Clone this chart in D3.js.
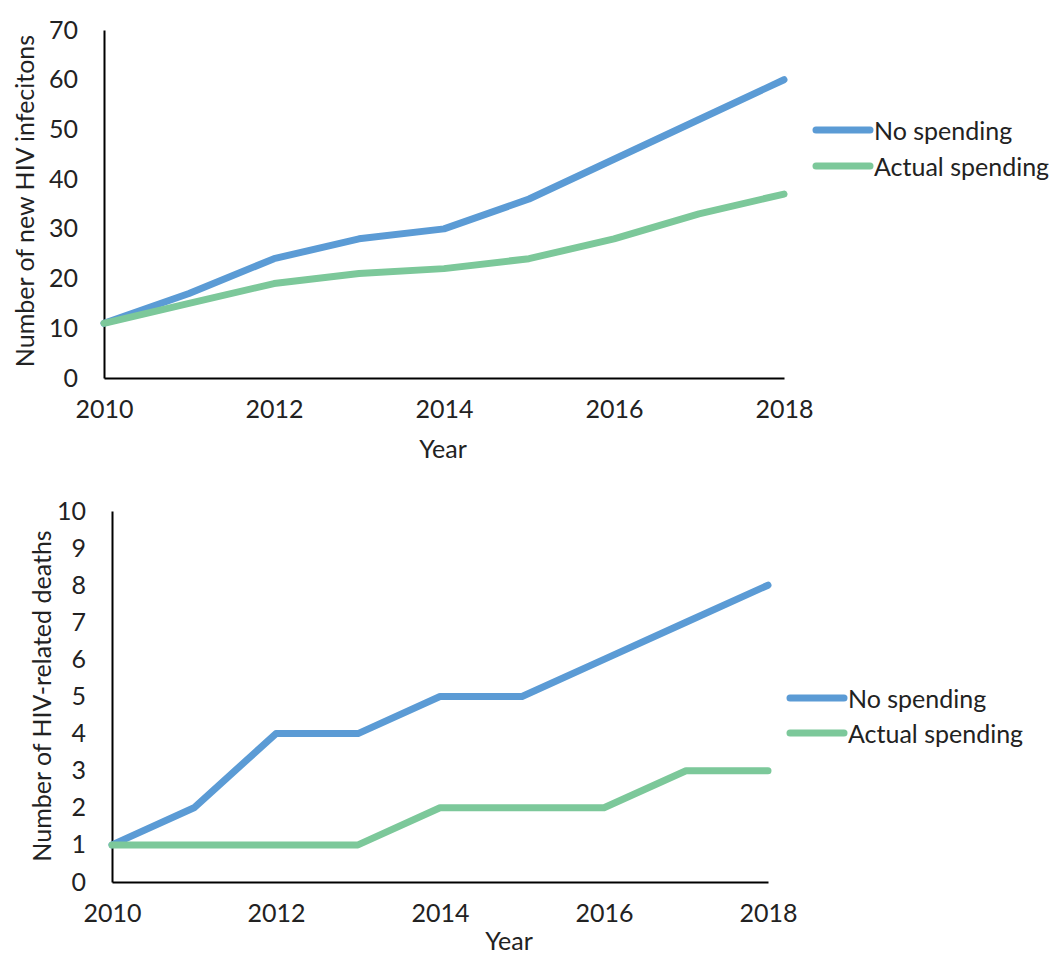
<!DOCTYPE html>
<html>
<head>
<meta charset="utf-8">
<script src="https://cdn.jsdelivr.net/npm/d3@7"></script>
<style>
  html, body { margin: 0; padding: 0; background: #fff; }
  svg text { font-family: Lato, "Open Sans", sans-serif; fill: #222; }
</style>
</head>
<body>
<svg id="chart" width="1049" height="954"></svg>
<script>
// ---- Data ----
const years = [2010, 2011, 2012, 2013, 2014, 2015, 2016, 2017, 2018];
const xTickYears = [2010, 2012, 2014, 2016, 2018];

const infectionsNoSpending = [11, 17, 24, 28, 30, 36, 44, 52, 60];
const infectionsActualSpending = [11, 15, 19, 21, 22, 24, 28, 33, 37];
const infectionsTicks = [0, 10, 20, 30, 40, 50, 60, 70];

const deathsNoSpending = [1, 2, 4, 4, 5, 5, 6, 7, 8];
const deathsActualSpending = [1, 1, 1, 1, 2, 2, 2, 3, 3];
const deathsTicks = [0, 1, 2, 3, 4, 5, 6, 7, 8, 9, 10];

const seriesNames = ["No spending", "Actual spending"];
const seriesColors = ["#5B9BD5", "#7CC89A"];

const yTitleTop = "Number of new HIV infecitons";
const yTitleBottom = "Number of HIV-related deaths";
const xTitle = "Year";

// ---- Drawing ----
const svg = d3.select("#chart");
const FONT = 25;

function panel(cfg) {
  const g = svg.append("g");
  const x = d3.scaleLinear().domain([2010, 2018]).range([cfg.x0, cfg.x1]);
  const y = d3.scaleLinear().domain([0, cfg.yMax]).range([cfg.y0, cfg.y1]);

  // y axis
  const yAxis = d3.axisLeft(y).tickValues(cfg.yTicks).tickSize(0).tickPadding(cfg.yPad);
  const ya = g.append("g").attr("transform", `translate(${cfg.x0},0)`).call(yAxis);
  ya.select(".domain").attr("stroke", "#000").attr("stroke-width", 2);
  ya.selectAll("text").style("font-size", FONT + "px").attr("fill", "#222");

  // x axis
  const xAxis = d3.axisBottom(x).tickValues(xTickYears).tickFormat(d3.format("d")).tickSize(0).tickPadding(cfg.xPad);
  const xa = g.append("g").attr("transform", `translate(0,${cfg.y0})`).call(xAxis);
  xa.select(".domain").attr("stroke", "#000").attr("stroke-width", 2);
  xa.selectAll("text").style("font-size", FONT + "px").attr("fill", "#222");

  // lines
  const line = d3.line().x((d, i) => x(years[i])).y(d => y(d));
  cfg.series.forEach((s, i) => {
    g.append("path")
      .datum(s)
      .attr("d", line)
      .attr("fill", "none")
      .attr("stroke", seriesColors[i])
      .attr("stroke-width", 7)
      .attr("stroke-linejoin", "round")
      .attr("stroke-linecap", "round");
  });

  // axis titles
  g.append("text")
    .attr("transform", `translate(${cfg.yTitleX},${cfg.yTitleY}) rotate(-90)`)
    .attr("text-anchor", "middle")
    .attr("dominant-baseline", "central")
    .style("font-size", FONT + "px")
    .text(cfg.yTitle);
  g.append("text")
    .attr("x", cfg.xTitleX).attr("y", cfg.xTitleY)
    .attr("text-anchor", "middle")
    .attr("dominant-baseline", "central")
    .style("font-size", FONT + "px")
    .text(xTitle);

  // legend
  seriesNames.forEach((name, i) => {
    const ly = cfg.legY[i];
    g.append("line")
      .attr("x1", cfg.legX).attr("x2", cfg.legX + 54)
      .attr("y1", ly).attr("y2", ly)
      .attr("stroke", seriesColors[i]).attr("stroke-width", 7)
      .attr("stroke-linecap", "round");
    g.append("text")
      .attr("x", cfg.legX + 58).attr("y", ly)
      .attr("dominant-baseline", "central")
      .style("font-size", FONT + "px")
      .text(name);
  });
}

panel({
  x0: 104, x1: 784, y0: 378, y1: 30, yMax: 70,
  yTicks: infectionsTicks, yPad: 26, xPad: 22,
  series: [infectionsNoSpending, infectionsActualSpending],
  yTitle: yTitleTop, yTitleX: 24, yTitleY: 201,
  xTitleX: 443, xTitleY: 448,
  legX: 816, legY: [130, 166]
});

panel({
  x0: 112, x1: 768, y0: 882, y1: 511, yMax: 10,
  yTicks: deathsTicks, yPad: 26, xPad: 22,
  series: [deathsNoSpending, deathsActualSpending],
  yTitle: yTitleBottom, yTitleX: 41, yTitleY: 696,
  xTitleX: 509, xTitleY: 940,
  legX: 790, legY: [698, 733]
});
</script>
</body>
</html>
